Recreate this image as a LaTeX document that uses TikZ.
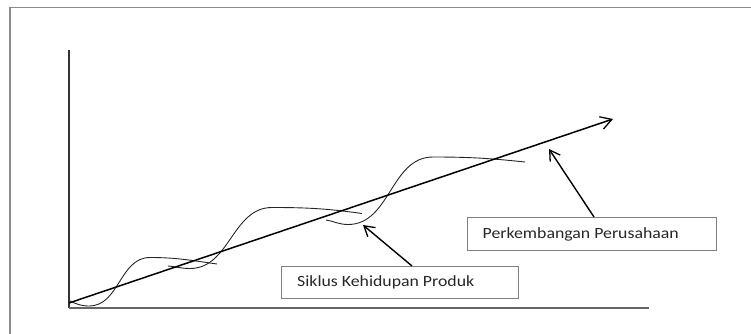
\documentclass[tikz,border=0pt]{standalone}
\usepackage{fontspec}
\setmainfont{Carlito}
\newfontfamily\labelfont[FakeStretch=1.14]{Carlito}
\usetikzlibrary{arrows.meta}
\begin{document}
\begin{tikzpicture}[x=1pt,y=-1pt,
  frameline/.style={draw=black!45,line width=1.2pt},
  axisline/.style={draw=black!80,line width=1.1pt},
  curveline/.style={draw=black!85,line width=0.9pt},
  mainarrow/.style={draw=black,line width=1.5pt,-{Straight Barb[length=11pt,width=13pt,line width=1.3pt]}},
  callout/.style={draw=black,line width=1.4pt,-{Straight Barb[length=10pt,width=12pt,line width=1.3pt]}},
  labelbox/.style={draw=black!50,line width=0.9pt,inner sep=0pt,anchor=north west},
  labeltext/.style={font=\labelfont\fontsize{15.6}{18}\selectfont,text=black!85,inner sep=0pt,anchor=base west}]
\useasboundingbox (0,0) rectangle (751,334);
% frame
\draw[frameline] (10,334) -- (10,7.5) -- (751,7.5);
% axes
\coordinate (ytop) at (69,50);
\coordinate (orig) at (69,308);
\coordinate (xend) at (649,308);
\draw[axisline] (ytop) -- (orig);
\draw[frameline,draw=black!60] (orig) -- (xend);
% product life cycle curves
\draw[curveline] (70,301) to[out=-25,in=180] (89,306) to[out=0,in=180,looseness=1.0] (150,257.5) to[out=0,in=172] (217,264);
\draw[curveline] (168,266) to[out=-5,in=180] (190,268.5) to[out=0,in=180,looseness=1.0] (272,207.5) to[out=0,in=172] (362,213.5);
\draw[curveline] (326,220) to[out=-10,in=180] (348,224.5) to[out=0,in=180,looseness=1.0] (433,157) to[out=0,in=174] (525,162);
% main trend arrow
\coordinate (ms) at (69,303);
\coordinate (me) at (613,119);
\draw[mainarrow] (ms) -- (me);
% label boxes
\node[labelbox,minimum width=237pt,minimum height=32pt] (plc) at (281,266) {};
\node[labeltext] (plct) at (297,286.5) {Siklus Kehidupan Produk};
\node[labelbox,minimum width=249pt,minimum height=33pt] (pp) at (467,217) {};
\node[labeltext] (ppt) at (482.5,238) {Perkembangan Perusahaan};
% callout arrows
\coordinate (t1) at (363,225);
\coordinate (t2) at (549,149);
\draw[callout] (plc.north west) ++(131,0) coordinate (s1) (s1) -- (t1);
\draw[callout] (pp.north west) ++(127,0) coordinate (s2) (s2) -- (t2);
\end{tikzpicture}
\end{document}
